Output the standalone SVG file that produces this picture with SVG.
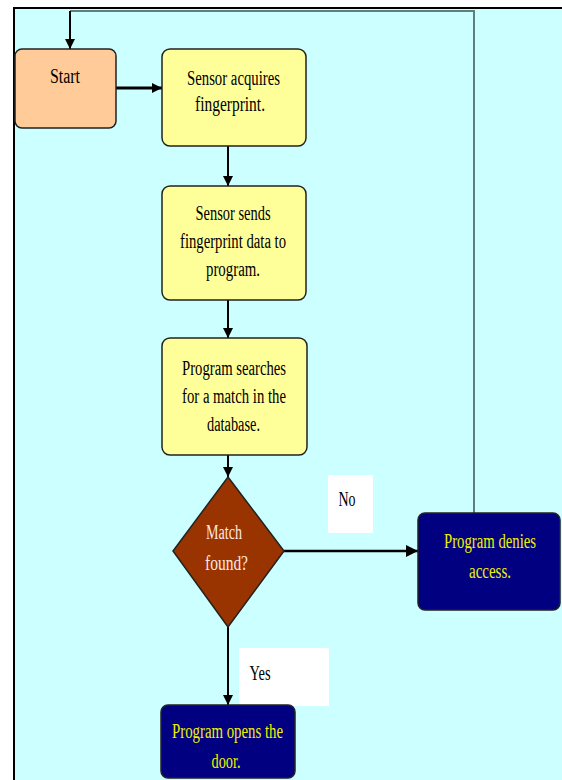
<svg xmlns="http://www.w3.org/2000/svg" width="562" height="780" viewBox="0 0 562 780">
<defs>
<style>
.t{font-family:"Liberation Serif","Times New Roman",serif;font-size:20px;text-anchor:middle}
.dk{fill:#000}
.yl{fill:#F0F000}
.pk{fill:#FFE8E0}
.box{stroke:#222;stroke-width:1.5}
.ln{stroke:#000;stroke-width:2;fill:none}
</style>
<marker id="ah" viewBox="0 0 10 10" refX="10" refY="5" markerWidth="5" markerHeight="5" markerUnits="strokeWidth" orient="auto">
<path d="M0,0 L10,5 L0,10 z" fill="#000"/>
</marker>
<marker id="ah2" viewBox="0 0 10 10" refX="10" refY="5" markerWidth="3.5" markerHeight="3.5" markerUnits="strokeWidth" orient="auto">
<path d="M0,0 L10,5 L0,10 z" fill="#000"/>
</marker>
</defs>
<rect x="0" y="0" width="562" height="780" fill="#fff"/>
<rect x="14" y="8" width="548" height="772" fill="#CCFFFF"/>
<path d="M14,780 V8 H562" stroke="#000" stroke-width="2" fill="none"/>

<g id="connectors">
<path d="M474,513 V11 H70" stroke="#5F7F7F" stroke-width="2" fill="none"/>
<path class="ln" d="M70,11 V49" marker-end="url(#ah)"/>
<path d="M116,88 H162" stroke="#000" stroke-width="3" fill="none" marker-end="url(#ah2)"/>
<path class="ln" d="M228,146 V186" marker-end="url(#ah)"/>
<path class="ln" d="M228,300 V338" marker-end="url(#ah)"/>
<path class="ln" d="M228,455 V477" marker-end="url(#ah)"/>
<path d="M284,551 H418" stroke="#000" stroke-width="2.5" fill="none" marker-end="url(#ah)"/>
<path class="ln" d="M228,627 V705" marker-end="url(#ah)"/>
</g>

<g id="label-no">
<rect x="328" y="475" width="45" height="58" fill="#fff"/>
<text class="t dk" x="347" y="506" textLength="17" lengthAdjust="spacingAndGlyphs">No</text>
</g>
<g id="label-yes">
<rect x="239" y="648" width="90" height="58" fill="#fff"/>
<text class="t dk" x="260" y="680" textLength="21" lengthAdjust="spacingAndGlyphs">Yes</text>
</g>

<g id="start">
<rect class="box" x="15" y="49" width="101" height="79" rx="7" fill="#FFCC99"/>
<text class="t dk" x="65" y="83" font-size="18" textLength="30" lengthAdjust="spacingAndGlyphs">Start</text>
</g>

<g id="acquire">
<rect class="box" x="162" y="49" width="144" height="97" rx="8" fill="#FFFF99"/>
<text class="t dk" x="233.5" y="85" textLength="93" lengthAdjust="spacingAndGlyphs">Sensor acquires</text>
<text class="t dk" x="230" y="111" textLength="70" lengthAdjust="spacingAndGlyphs">fingerprint.</text>
</g>

<g id="send">
<rect class="box" x="162" y="186" width="144" height="114" rx="8" fill="#FFFF99"/>
<text class="t dk" x="233" y="220" textLength="75" lengthAdjust="spacingAndGlyphs">Sensor sends</text>
<text class="t dk" x="233" y="248" textLength="106" lengthAdjust="spacingAndGlyphs">fingerprint data to</text>
<text class="t dk" x="233" y="276" textLength="54" lengthAdjust="spacingAndGlyphs">program.</text>
</g>

<g id="search">
<rect class="box" x="162" y="338" width="145" height="117" rx="8" fill="#FFFF99"/>
<text class="t dk" x="234" y="375" textLength="104" lengthAdjust="spacingAndGlyphs">Program searches</text>
<text class="t dk" x="234" y="403" textLength="104" lengthAdjust="spacingAndGlyphs">for a match in the</text>
<text class="t dk" x="233.5" y="431" textLength="53" lengthAdjust="spacingAndGlyphs">database.</text>
</g>

<g id="decision">
<polygon class="box" points="228,477 284,551 228,627 173,551" fill="#993300"/>
<text class="t pk" x="224" y="539" textLength="36" lengthAdjust="spacingAndGlyphs">Match</text>
<text class="t pk" x="226.5" y="570" textLength="43" lengthAdjust="spacingAndGlyphs">found?</text>
</g>

<g id="deny">
<rect class="box" x="418" y="513" width="142" height="97" rx="7" fill="#000080"/>
<text class="t yl" x="490" y="548" font-size="19" textLength="92" lengthAdjust="spacingAndGlyphs">Program denies</text>
<text class="t yl" x="490" y="578" textLength="42" lengthAdjust="spacingAndGlyphs">access.</text>
</g>

<g id="open">
<rect class="box" x="161" y="705" width="134" height="73" rx="7" fill="#000080"/>
<text class="t yl" x="227.5" y="738" textLength="111" lengthAdjust="spacingAndGlyphs">Program opens the</text>
<text class="t yl" x="226" y="768" textLength="29" lengthAdjust="spacingAndGlyphs">door.</text>
</g>
</svg>
